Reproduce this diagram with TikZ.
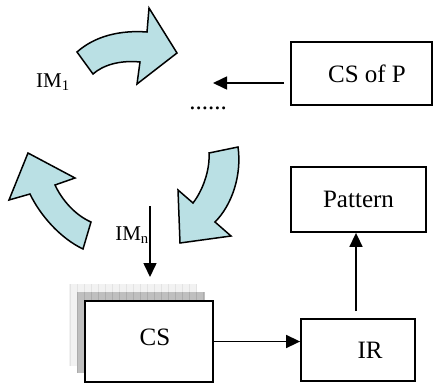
\documentclass[tikz,border=0pt]{standalone}
\usepackage{fontspec}
\setmainfont{Liberation Serif}
\usetikzlibrary{arrows.meta}
\definecolor{arrfill}{RGB}{186,224,228}
\begin{document}
\begin{tikzpicture}[x=1pt,y=-1pt,
  box/.style={draw,line width=1.8pt,fill=white,inner sep=0pt,font=\fontsize{25}{30}\selectfont},
  arr/.style={line width=1.6pt,-{Triangle[length=14pt,width=13pt]}},
  curv/.style={draw,line width=1.5pt,fill=arrfill,line join=miter},
  lab/.style={font=\fontsize{21}{25}\selectfont,inner sep=0pt}]
\useasboundingbox (0,0) rectangle (433,383);

% curved arrows
\path[curv] (77,52) .. controls (95,36) and (120,30) .. (147,32) -- (149,8) -- (177,53)
  -- (137,84) -- (140,62) .. controls (120,60) and (103,65) .. (93,74) -- cycle;
\path[curv] (209,153) -- (238,147) .. controls (242,175) and (232,205) .. (215,222)
  -- (231,236) -- (180,243) -- (178,190) -- (193,203)
  .. controls (203,190) and (210,170) .. cycle;
\path[curv] (28,153) -- (75,178) -- (55,185) .. controls (62,200) and (75,215) .. (91,222)
  -- (83,249) .. controls (60,238) and (40,215) .. (30,194) -- (9,200) -- cycle;

% shadow layers of CS
\fill[gray!10] (69,284) rectangle (197,366);
\begin{scope}
  \clip (69,284) rectangle (197,366);
  \draw[gray!22,line width=0.5pt,step=7] (69,284) grid (197,366);
\end{scope}
\fill[gray!50] (77,292) rectangle (205,373);
\begin{scope}
  \clip (77,292) rectangle (205,373);
  \draw[gray!65,line width=0.5pt,step=7] (77,292) grid (205,373);
\end{scope}

% boxes
\node[box,minimum width=141pt,minimum height=63pt] (csp) at (361.5,73.5) {\hspace*{11pt}CS of P};
\node[box,minimum width=135pt,minimum height=65pt] (pat) at (358.5,199.5) {Pattern};
\node[box,minimum width=114pt,minimum height=62pt] (ir) at (358,350) {\hspace*{24pt}IR};
\node[box,minimum width=128pt,minimum height=81pt] (cs) at (149,341.5) {\raisebox{8pt}{\hspace*{12pt}CS}};

% labels
\node[lab,anchor=base west] (im1) at (36,87) {IM\textsubscript{1}};
\node[lab,anchor=base east] (imn) at (149,240) {IM\textsubscript{n}};
\node[inner sep=0pt,anchor=base,font=\fontsize{25}{30}\selectfont] (dots) at (208,109) {......};

% connectors
\coordinate (tipA) at (213,83);
\draw[arr] ([yshift=-9.5pt]csp.west) ++(-6,0) -- (tipA);
\coordinate (imtop) at (150,206);
\coordinate (imend) at (150,277);
\draw[arr] (imtop) -- (imend);
\draw[arr] (cs.east) -- (cs.east -| ir.west);
\draw[arr] ([xshift=-2pt,yshift=7pt]ir.north) -- ([xshift=-2.5pt]pat.south);
\end{tikzpicture}
\end{document}
